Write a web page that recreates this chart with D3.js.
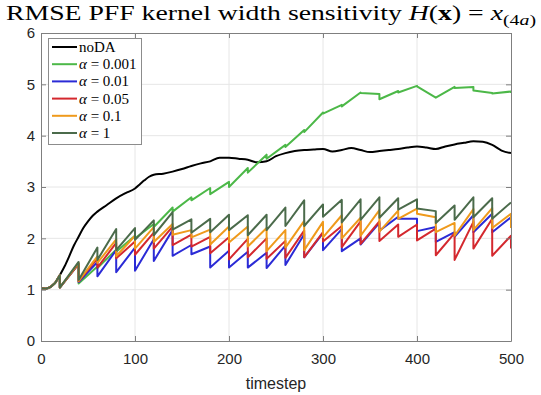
<!DOCTYPE html>
<html>
<head>
<meta charset="utf-8">
<script src="https://cdn.jsdelivr.net/npm/d3@7"></script>
<style>
  body { margin: 0; background: #fff; }
  svg { display: block; }
</style>
</head>
<body>
<svg id="chart" width="541" height="395"></svg>
<script>
// values

// free run (no data assimilation), smooth curve
const noDASteps = [0, 5, 10, 15, 20, 25, 30, 35, 40, 45, 50, 55, 60, 70, 80, 90, 100, 105, 110, 115, 120,
  130, 140, 150, 160, 170, 180, 190, 200, 210, 220, 230, 240, 250, 260, 270, 280, 290, 300, 310, 320,
  330, 340, 350, 360, 370, 380, 390, 400, 410, 420, 430, 440, 450, 460, 470, 480, 490, 500];
const noDA = [1.03, 1.02, 1.05, 1.13, 1.28, 1.45, 1.65, 1.86, 2.03, 2.2, 2.33, 2.44, 2.52, 2.65, 2.78, 2.88, 2.97, 3.05, 3.13, 3.2, 3.24,
  3.26, 3.3, 3.35, 3.41, 3.46, 3.5, 3.57, 3.57, 3.55, 3.53, 3.48, 3.5, 3.6, 3.66, 3.7, 3.72, 3.73, 3.74, 3.69, 3.72,
  3.76, 3.72, 3.68, 3.7, 3.72, 3.74, 3.77, 3.79, 3.77, 3.74, 3.79, 3.83, 3.86, 3.89, 3.88, 3.82, 3.71, 3.66];

// shared spin-up before the first analysis
const spinupSteps = [0, 5, 10, 15];
const spinup = [1.03, 1.02, 1.05, 1.13];

// analysis times, and RMSE just before / just after each analysis
const daSteps = [20, 40, 60, 80, 100, 120, 140, 160, 180, 200, 220, 240, 260, 280, 300, 320, 340, 360, 380, 400, 420, 440, 460, 480, 500];

const a0001Before = [1.28, 1.5, 1.45, 1.78, 2.05, 2.28, 2.6, 2.8, 2.98, 3.1, 3.37, 3.63, 3.82, 4.11, 4.45, 4.6, 4.84, 4.81, 4.87, 4.97, 4.74, 4.95, 4.95, 4.83, 4.86];
const a0001After  = [1.04, 1.12, 1.42, 1.74, 2.0, 2.22, 2.52, 2.74, 2.86, 3.0, 3.28, 3.55, 3.78, 4.07, 4.43, 4.57, 4.83, 4.71, 4.84, 4.96, 4.74, 4.93, 4.88, 4.82, 4.83];

const a001Before = [1.28, 1.5, 1.54, 1.77, 1.82, 1.98, 2.16, 1.87, 1.84, 1.76, 1.74, 1.72, 1.86, 2.08, 2.1, 2.18, 2.0, 2.3, 2.42, 2.38, 2.22, 2.12, 2.45, 2.48, 2.41];
const a001After  = [1.04, 1.15, 1.26, 1.34, 1.37, 1.56, 1.66, 1.69, 1.43, 1.43, 1.43, 1.42, 1.48, 1.63, 1.77, 1.75, 1.88, 2.15, 2.38, 2.14, 1.93, 2.03, 2.12, 2.12, 2.41];

const a005Before = [1.28, 1.5, 1.61, 1.91, 1.94, 2.11, 2.23, 2.07, 2.03, 2.02, 1.99, 2.0, 1.95, 2.15, 2.12, 2.24, 2.33, 2.33, 2.27, 2.27, 2.19, 2.1, 2.32, 2.38, 2.05];
const a005After  = [1.04, 1.16, 1.43, 1.61, 1.68, 1.8, 1.87, 1.84, 1.71, 1.59, 1.63, 1.6, 1.62, 1.63, 1.94, 1.83, 1.89, 1.95, 2.03, 1.96, 1.67, 1.58, 1.8, 1.66, 1.8];

const a01Before = [1.28, 1.52, 1.65, 1.98, 2.05, 2.22, 2.28, 2.16, 2.17, 2.23, 2.23, 2.2, 2.16, 2.34, 2.32, 2.45, 2.4, 2.55, 2.54, 2.58, 2.41, 2.3, 2.57, 2.59, 2.48];
const a01After  = [1.04, 1.17, 1.52, 1.65, 1.8, 1.93, 2.07, 2.02, 1.88, 1.92, 1.84, 1.75, 1.82, 1.77, 2.02, 2.0, 2.05, 2.13, 2.38, 2.48, 2.12, 2.05, 2.16, 2.2, 2.2];

const a1Before = [1.28, 1.54, 1.82, 2.18, 2.2, 2.35, 2.51, 2.37, 2.38, 2.46, 2.45, 2.46, 2.6, 2.74, 2.66, 2.75, 2.76, 2.8, 2.78, 2.76, 2.53, 2.64, 2.8, 2.78, 2.7];
const a1After  = [1.04, 1.19, 1.58, 1.77, 1.97, 2.06, 2.17, 2.11, 2.12, 2.16, 2.06, 2.16, 2.24, 2.24, 2.42, 2.31, 2.36, 2.4, 2.56, 2.58, 2.3, 2.36, 2.41, 2.38, 2.7];

const xTicks = [0, 100, 200, 300, 400, 500];
const yTicks = [0, 1, 2, 3, 4, 5, 6];

const seriesNames = ['noDA', '0.001', '0.01', '0.05', '0.1', '1'];
const seriesColors = ['#000000', '#4cb848', '#2b2bd6', '#d4282e', '#ef9a1c', '#4b6b4b'];

// ---- layout
const W = 541, H = 395;
const margin = { top: 33, right: 30, bottom: 54, left: 41 };
const svg = d3.select('#chart');

const x = d3.scaleLinear().domain([0, 500]).range([margin.left, W - margin.right]);
const y = d3.scaleLinear().domain([0, 6]).range([H - margin.bottom, margin.top]);

const axisColor = '#7f7f7f';
const labelColor = '#262626';
const tickFont = '"Liberation Sans", Arial, Helvetica, sans-serif';
const serif = '"Liberation Serif", "Times New Roman", serif';

// grid
svg.append('g')
  .selectAll('line')
  .data(xTicks.slice(1, -1))
  .join('line')
  .attr('x1', d => x(d)).attr('x2', d => x(d))
  .attr('y1', y(0)).attr('y2', y(6))
  .attr('stroke', '#e6e6e6').attr('stroke-width', 1);
svg.append('g')
  .selectAll('line')
  .data(yTicks.slice(1, -1))
  .join('line')
  .attr('x1', x(0)).attr('x2', x(500))
  .attr('y1', d => y(d)).attr('y2', d => y(d))
  .attr('stroke', '#e6e6e6').attr('stroke-width', 1);

// series lines
function daPoints(before, after) {
  const pts = spinupSteps.map((t, i) => [t, spinup[i]]);
  daSteps.forEach((t, i) => {
    pts.push([t, before[i]]);
    pts.push([t, after[i]]);
  });
  return pts;
}

const series = [
  { pts: noDASteps.map((t, i) => [t, noDA[i]]), smooth: true },
  { pts: daPoints(a0001Before, a0001After) },
  { pts: daPoints(a001Before, a001After) },
  { pts: daPoints(a005Before, a005After) },
  { pts: daPoints(a01Before, a01After) },
  { pts: daPoints(a1Before, a1After) }
];

svg.append('clipPath').attr('id', 'plotclip')
  .append('rect')
  .attr('x', x(0)).attr('y', y(6))
  .attr('width', x(500) - x(0)).attr('height', y(0) - y(6));

const lineSmooth = d3.line().x(d => x(d[0])).y(d => y(d[1])).curve(d3.curveMonotoneX);
const lineSharp = d3.line().x(d => x(d[0])).y(d => y(d[1]));

svg.append('g')
  .attr('clip-path', 'url(#plotclip)')
  .selectAll('path')
  .data(series)
  .join('path')
  .attr('d', d => (d.smooth ? lineSmooth : lineSharp)(d.pts))
  .attr('fill', 'none')
  .attr('stroke', (d, i) => seriesColors[i])
  .attr('stroke-width', 2)
  .attr('stroke-linejoin', 'round');

// axes, MATLAB style: box with inward ticks on all four sides
const gx = svg.append('g')
  .attr('transform', `translate(0,${y(0)})`)
  .call(d3.axisBottom(x).tickValues(xTicks).tickFormat(d3.format('d'))
    .tickSizeInner(-5).tickSizeOuter(0).tickPadding(12));
const gxTop = svg.append('g')
  .attr('transform', `translate(0,${y(6)})`)
  .call(d3.axisTop(x).tickValues(xTicks).tickSizeInner(-5).tickSizeOuter(0).tickFormat(''));
const gy = svg.append('g')
  .attr('transform', `translate(${x(0)},0)`)
  .call(d3.axisLeft(y).tickValues(yTicks).tickFormat(d3.format('d'))
    .tickSizeInner(-5).tickSizeOuter(0).tickPadding(6));
const gyRight = svg.append('g')
  .attr('transform', `translate(${x(500)},0)`)
  .call(d3.axisRight(y).tickValues(yTicks).tickSizeInner(-5).tickSizeOuter(0).tickFormat(''));

[gx, gxTop, gy, gyRight].forEach(g => {
  g.select('.domain').attr('stroke', axisColor);
  g.selectAll('.tick line').attr('stroke', axisColor);
  g.selectAll('.tick text')
    .attr('fill', labelColor)
    .style('font-family', tickFont)
    .style('font-size', '15px');
});

// x label
svg.append('text')
  .attr('x', (x(0) + x(500)) / 2)
  .attr('y', 389)
  .attr('text-anchor', 'middle')
  .attr('fill', labelColor)
  .style('font-family', tickFont)
  .style('font-size', '16px')
  .text('timestep');

// title (Computer Modern is wide, so stretch the serif to the same span)
const title = svg.append('text')
  .attr('x', 6)
  .attr('y', 20)
  .attr('textLength', 530)
  .attr('lengthAdjust', 'spacingAndGlyphs')
  .attr('fill', '#000')
  .style('font-family', serif)
  .style('font-size', '21px');
title.append('tspan').text('RMSE PFF kernel width sensitivity ');
title.append('tspan').style('font-style', 'italic').text('H');
title.append('tspan').text('(');
title.append('tspan').style('font-weight', 'bold').text('x');
title.append('tspan').text(') = ');
title.append('tspan').style('font-style', 'italic').text('x');
title.append('tspan').attr('dy', 5).style('font-size', '15px').text('(4');
title.append('tspan').style('font-size', '15px').style('font-style', 'italic').text('a');
title.append('tspan').style('font-size', '15px').text(')');

// legend
const legend = svg.append('g');
legend.append('rect')
  .attr('x', 48.5).attr('y', 38.5)
  .attr('width', 93).attr('height', 106)
  .attr('fill', '#fff')
  .attr('stroke', '#8c8c8c')
  .attr('stroke-width', 1);

const entryY = d3.scalePoint().domain(seriesNames).range([47, 133]);
const entries = legend.selectAll('g.entry')
  .data(seriesNames)
  .join('g')
  .attr('transform', d => `translate(0,${entryY(d)})`);
entries.append('line')
  .attr('x1', 52).attr('x2', 77)
  .attr('stroke', (d, i) => seriesColors[i])
  .attr('stroke-width', 2);
entries.each(function (d, i) {
  const t = d3.select(this).append('text')
    .attr('x', 79).attr('y', 5)
    .attr('fill', '#000')
    .style('font-family', serif)
    .style('font-size', '15px');
  if (i === 0) {
    t.text(d);
  } else {
    t.append('tspan').style('font-style', 'italic').text('α');
    t.append('tspan').text(' = ' + d);
  }
});
</script>
</body>
</html>
